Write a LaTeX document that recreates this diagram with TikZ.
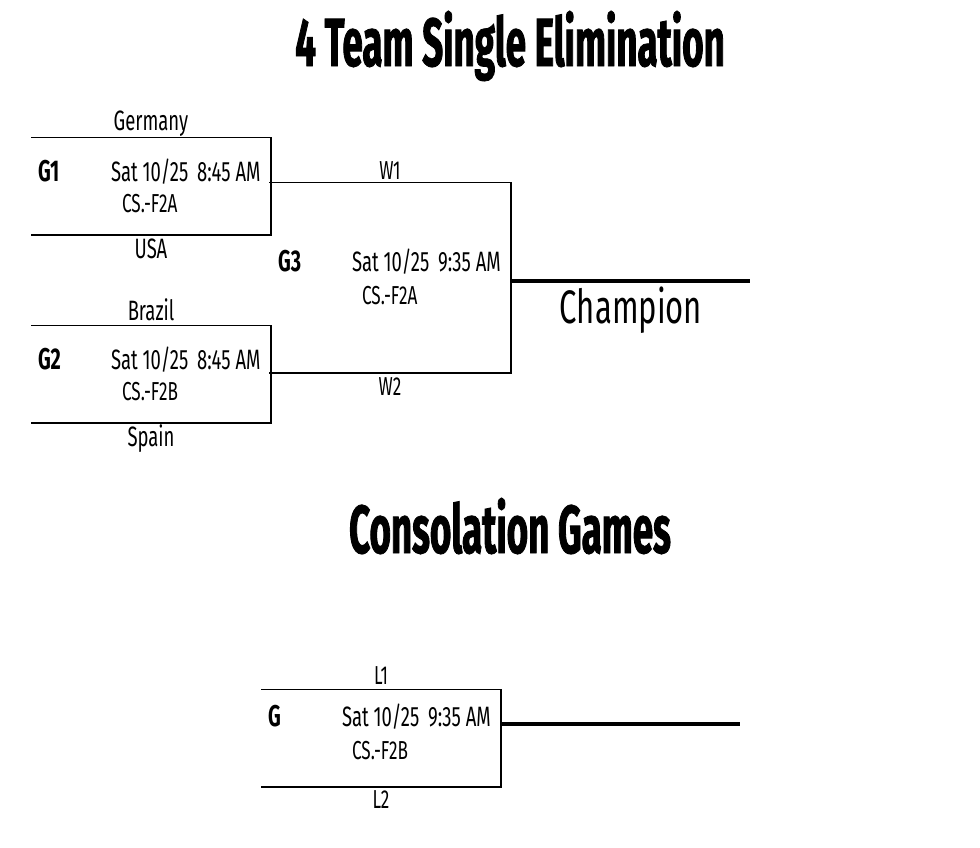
\documentclass[tikz,border=0pt]{standalone}
\usepackage{fontspec}
\setmainfont{Fira Sans}[FakeStretch=0.66]
\newfontfamily\titlefont{Fira Sans}[FakeStretch=0.54, BoldFeatures={FakeBold=1.2}]
\usetikzlibrary{positioning,calc}

\begin{document}
\begin{tikzpicture}[x=1pt, y=-1pt, line width=1.5pt]

  % Styles
  \tikzset{
    game/.style={rectangle, minimum width=238pt, minimum height=96pt, inner sep=0pt},
    gid/.style={font=\bfseries\fontsize{30}{30}\selectfont, anchor=base west, inner sep=0pt},
    when/.style={font=\fontsize{28}{28}\selectfont, anchor=base west, inner sep=0pt},
    venue/.style={font=\fontsize{26}{26}\selectfont, anchor=base west, inner sep=0pt},
    team/.style={font=\fontsize{28}{28}\selectfont, anchor=base, inner sep=0pt},
    slot/.style={font=\fontsize{26}{26}\selectfont, anchor=base, inner sep=0pt},
    heading/.style={font=\titlefont\bfseries\fontsize{68}{68}\selectfont, anchor=base, inner sep=0pt},
    final/.style={line width=3.5pt}
  }

  \useasboundingbox (0,0) rectangle (980,847);

  % Titles
  \node[heading] (title) at (510,66) {4 Team Single Elimination};
  \node[heading] (consol) at (510,553) {Consolation Games};

  % Game boxes (open on the left)
  \node[game] (g1) at (151,186) {};
  \node[game] (g2) at (151,374) {};
  \node[game, minimum width=240pt, minimum height=189pt] (g3) at (390,277.5) {};
  \node[game] (gc) at (381,738) {};

  \foreach \g in {g1,g2,g3,gc}
    \draw (\g.north west) -- (\g.north east) -- (\g.south east) -- (\g.south west);

  % Game 1
  \node[gid] (g1id) at ($(g1.north west)+(6,44)$) {G1};
  \node[when] (g1when) at ($(g1.north west)+(79,44)$) {Sat 10/25\hspace{4pt} 8:45 AM};
  \node[venue] (g1venue) at ($(g1.north west)+(90,75)$) {CS.-F2A};
  \node[team] (germany) at ($(g1.north)+(0,-7)$) {Germany};
  \node[team] (usa) at ($(g1.south)+(0,24)$) {USA};

  % Game 2
  \node[gid] (g2id) at ($(g2.north west)+(6,44)$) {G2};
  \node[when] (g2when) at ($(g2.north west)+(79,44)$) {Sat 10/25\hspace{4pt} 8:45 AM};
  \node[venue] (g2venue) at ($(g2.north west)+(90,75)$) {CS.-F2B};
  \node[team] (brazil) at ($(g2.north)+(0,-5)$) {Brazil};
  \node[team] (spain) at ($(g2.south)+(0,24)$) {Spain};

  % Game 3 (final)
  \node[gid] (g3id) at ($(g3.north west)+(8,89)$) {G3};
  \node[when] (g3when) at ($(g3.north west)+(82,89)$) {Sat 10/25\hspace{4pt} 9:35 AM};
  \node[venue] (g3venue) at ($(g3.north west)+(92,122)$) {CS.-F2A};
  \node[slot] (w1) at ($(g3.north)+(0,-3)$) {W1};
  \node[slot] (w2) at ($(g3.south)+(0,23)$) {W2};

  \coordinate (champ) at (750,281);
  \draw[final] (g3.east |- champ) -- (champ);
  \node[font=\fontsize{47}{47}\selectfont, anchor=base, inner sep=0pt] (champion) at (631,323) {Champion};

  % Consolation game
  \node[gid] (gcid) at ($(gc.north west)+(6,37)$) {G};
  \node[when] (gcwhen) at ($(gc.north west)+(80,37)$) {Sat 10/25\hspace{4pt} 9:35 AM};
  \node[venue] (gcvenue) at ($(gc.north west)+(90,70)$) {CS.-F2B};
  \node[slot] (l1) at ($(gc.north)+(0,-5)$) {L1};
  \node[slot] (l2) at ($(gc.south)+(0,22)$) {L2};

  \coordinate (third) at (740,724);
  \draw[final] (gc.east |- third) -- (third);

\end{tikzpicture}
\end{document}
